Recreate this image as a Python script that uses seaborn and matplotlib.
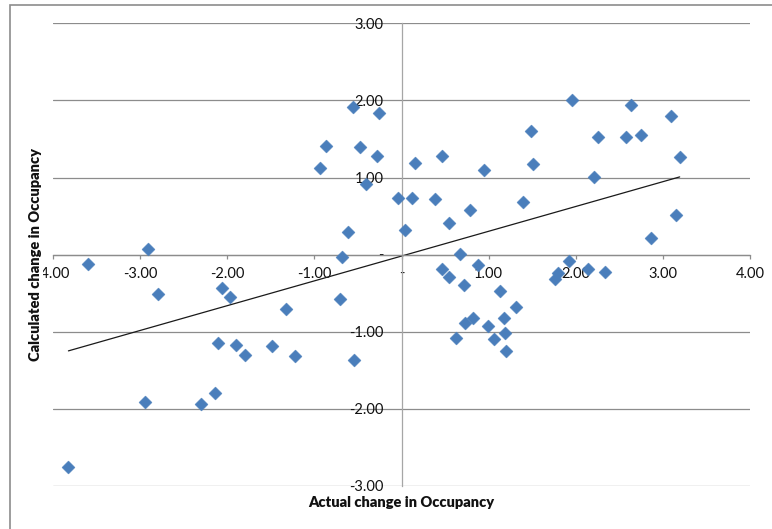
import numpy as np
import pandas as pd
import matplotlib.pyplot as plt
import matplotlib.patches as patches
import seaborn as sns

# actual vs calculated change in occupancy
actual = [-3.82, -3.60, -2.91, -2.79, -2.94, -2.30, -2.14, -2.06, -1.97, -2.10,
          -1.90, -1.80, -1.49, -1.33, -1.22, -0.71, -0.55,
          -0.94, -0.87, -0.56, -0.26, -0.48, -0.28, -0.41, 0.15, -0.04, 0.12,
          -0.61, 0.04, -0.68, 0.46, 0.95, 1.51, 0.38, 0.78, 0.54, 1.39, 0.67, 0.88,
          0.47, 0.55, 0.72, 1.13, 1.31, 0.73, 0.82, 0.99, 1.17, 0.62, 1.06, 1.19, 1.20,
          1.96, 2.63, 3.09, 1.49, 2.25, 2.58, 2.75, 3.19,
          2.21, 3.15, 2.86, 1.92, 1.79, 1.76, 2.14, 2.33]
calculated = [-2.75, -0.12, 0.07, -0.51, -1.91, -1.94, -1.79, -0.43, -0.55, -1.15,
              -1.17, -1.30, -1.19, -0.70, -1.31, -0.58, -1.37,
              1.13, 1.41, 1.91, 1.84, 1.40, 1.28, 0.92, 1.19, 0.73, 0.74,
              0.30, 0.32, -0.03, 1.28, 1.10, 1.17, 0.72, 0.58, 0.41, 0.68, 0.01, -0.14,
              -0.19, -0.29, -0.39, -0.47, -0.68, -0.88, -0.82, -0.92, -0.82, -1.08, -1.10, -1.01, -1.25,
              2.01, 1.94, 1.80, 1.61, 1.52, 1.53, 1.55, 1.27,
              1.01, 0.52, 0.22, -0.08, -0.24, -0.32, -0.19, -0.22]

x_ticks = [-4, -3, -2, -1, 0, 1, 2, 3, 4]
y_ticks = [-3, -2, -1, 0, 1, 2, 3]

df = pd.DataFrame({'actual': actual, 'calculated': calculated})

sns.set_style('white')
plt.rcParams['font.family'] = ['Lato', 'DejaVu Sans']

fig = plt.figure(figsize=(7.72, 5.29), dpi=100)
ax = fig.add_axes([0.0683, 0.0813, 0.9036, 0.8746])

sns.scatterplot(data=df, x='actual', y='calculated', marker='D', s=44,
                color='#4A7EBB', edgecolor='#4A7EBB', linewidth=0.3, ax=ax, zorder=3)
sns.regplot(data=df, x='actual', y='calculated', scatter=False, ci=None,
            truncate=True, color='#1a1a1a', line_kws={'lw': 0.9}, ax=ax)

ax.set_xlim(-4, 4)
ax.set_ylim(-3, 3)
ax.set_xticks(x_ticks)
ax.set_yticks(y_ticks)

def fmt(v):
    return '-' if v == 0 else f'{v:.2f}'

ax.set_xticklabels([fmt(v) for v in x_ticks])
ax.set_yticklabels([fmt(v) for v in y_ticks])

for s in ['top', 'right']:
    ax.spines[s].set_visible(False)
ax.spines['left'].set_position(('data', 0))
ax.spines['bottom'].set_position(('data', 0))
ax.spines['left'].set_color('#a6a6a6')
ax.spines['bottom'].set_color('#8c8c8c')
ax.spines['left'].set_linewidth(0.9)
ax.spines['bottom'].set_linewidth(0.9)

ax.grid(axis='y', color='#8c8c8c', lw=0.9)
ax.grid(axis='x', visible=False)
ax.set_axisbelow(True)

ax.tick_params(axis='x', direction='out', length=3, width=0.9, color='#8c8c8c',
               pad=6, labelsize=10.5, labelcolor='#111111', bottom=True)
ax.tick_params(axis='y', length=0, pad=13, labelsize=10.5, labelcolor='#111111', left=True)

ax.set_xlabel('Actual change in Occupancy', fontsize=10.5, fontweight='heavy', color='#111111')
ax.set_ylabel('Calculated change in Occupancy', fontsize=10.5, fontweight='heavy', color='#111111',
              bbox=dict(facecolor='white', edgecolor='none', pad=0.5))
ax.xaxis.set_label_coords(0.5, -0.022)
ax.yaxis.set_label_coords(-0.0153, 0.5)

# chart area border (cut off at right and bottom)
fig.patches.append(patches.Rectangle((10 / 772, -0.1), 1.2, 1.1 - 4.7 / 529,
                                     transform=fig.transFigure, fill=False,
                                     edgecolor='#8c8c8c', lw=1.2))

fig.savefig('out.png', dpi=100)
